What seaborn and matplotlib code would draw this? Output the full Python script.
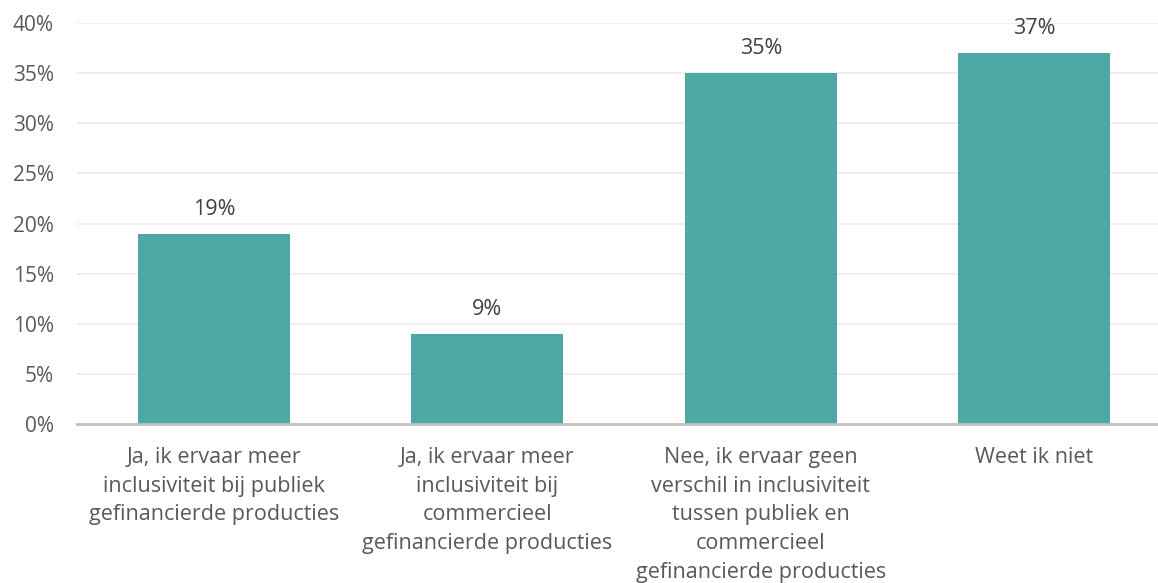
import matplotlib
matplotlib.use("Agg")
import matplotlib.pyplot as plt
import seaborn as sns
import pandas as pd
from matplotlib.ticker import FuncFormatter

# data
categories = [
    "Ja, ik ervaar meer\ninclusiviteit bij publiek\ngefinancierde producties",
    "Ja, ik ervaar meer\ninclusiviteit bij\ncommercieel\ngefinancierde producties",
    "Nee, ik ervaar geen\nverschil in inclusiviteit\ntussen publiek en\ncommercieel\ngefinancierde producties",
    "Weet ik niet",
]
values = [19, 9, 35, 37]
y_ticks = [0, 5, 10, 15, 20, 25, 30, 35, 40]

df = pd.DataFrame({"antwoord": categories, "pct": values})

sns.set_theme(style="white")
plt.rcParams["font.family"] = ["Open Sans", "DejaVu Sans"]

fig = plt.figure(figsize=(11.58, 5.83), dpi=100)
ax = fig.add_axes([0.0669, 0.2727, 0.933, 0.6878])

sns.barplot(data=df, x="antwoord", y="pct", color="#4DA8A6", saturation=1,
            width=0.556, linewidth=0, ax=ax)

ax.set_ylim(0, 40)
ax.set_xlim(-0.5, 3.453)
ax.set_yticks(y_ticks)
ax.yaxis.set_major_formatter(FuncFormatter(lambda v, p: f"{v:.0f}%"))
ax.grid(axis="y", color="#EBEBEB", linewidth=1.2)
ax.set_axisbelow(True)

for s in ["top", "right", "left"]:
    ax.spines[s].set_visible(False)
ax.spines["bottom"].set_color("#BFBFBF")
ax.spines["bottom"].set_linewidth(2)

ax.tick_params(axis="y", length=0, labelsize=15, labelcolor="#595959", pad=17)
ax.tick_params(axis="x", length=0, labelsize=15.5, labelcolor="#595959", pad=16.5)
for lbl in ax.get_xticklabels():
    lbl.set_linespacing(1.48)
    lbl.set_verticalalignment("top")

ax.bar_label(ax.containers[0], labels=[f"{v}%" for v in values],
             padding=10, fontsize=15.5, color="#404040")

ax.set_xlabel("")
ax.set_ylabel("")

fig.savefig("out.png", dpi=100)
